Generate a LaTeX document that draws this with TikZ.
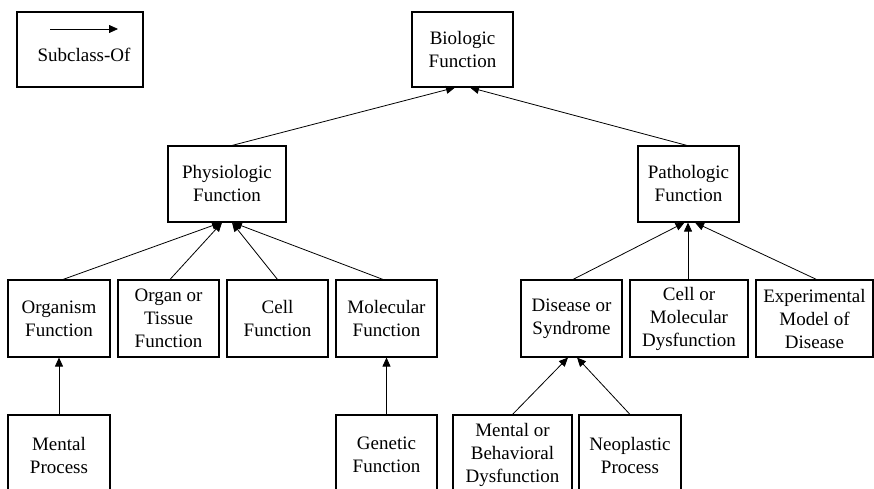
\documentclass[tikz,border=0pt]{standalone}
\usepackage{fontspec}
\setmainfont{Liberation Serif}
\usetikzlibrary{arrows.meta}
\begin{document}
\begin{tikzpicture}[x=1pt,y=-1pt,
  box/.style={draw,line width=1.1pt,rectangle,inner sep=0pt,align=center,
    font=\fontsize{19}{23}\selectfont},
  arr/.style={line width=0.8pt,-{Triangle[length=9pt,width=8pt]}}]
\useasboundingbox (0,0) rectangle (874,489);
\clip (0,0) rectangle (874,489);
\fill[white] (0,0) rectangle (874,489);
% legend
\node[box,minimum width=126pt,minimum height=75pt] (legend) at (80,49.5) {};
\node[font=\fontsize{19}{23}\selectfont,inner sep=0pt] (legtxt) at (84,55) {Subclass-Of};
\coordinate (la) at (50,29);
\coordinate (lb) at (118,29);
\draw[arr] (la) -- (lb);
% level 1
\node[box,minimum width=101pt,minimum height=75pt] (bio) at (462.5,49.5) {Biologic\\Function};
% level 2
\node[box,minimum width=118pt,minimum height=76pt] (phys) at (227,184) {Physiologic\\Function};
\node[box,minimum width=101pt,minimum height=76pt] (path) at (688.5,184) {Pathologic\\Function};
% level 3
\node[box,minimum width=102pt,minimum height=77pt] (org) at (59,318.5) {Organism\\Function};
\node[box,minimum width=101pt,minimum height=77pt] (organ) at (168.5,318.5) {Organ or\\Tissue\\Function};
\node[box,minimum width=101pt,minimum height=77pt] (cell) at (277.5,318.5) {Cell\\Function};
\node[box,minimum width=101pt,minimum height=77pt] (mol) at (386.5,318.5) {Molecular\\Function};
\node[box,minimum width=101pt,minimum height=77pt] (dis) at (571.5,318.5) {Disease or\\Syndrome};
\node[box,minimum width=118pt,minimum height=77pt] (cellmol) at (689,318.5) {Cell or\\Molecular\\Dysfunction};
\node[box,minimum width=117pt,minimum height=77pt] (exp) at (814.5,318.5) {Experimental\\Model of\\Disease};
% level 4
\node[box,minimum width=102pt,minimum height=80pt] (mental) at (59,455) {Mental\\Process};
\node[box,minimum width=101pt,minimum height=80pt] (gen) at (386.5,455) {Genetic\\Function};
\node[box,minimum width=119pt,minimum height=80pt] (mbd) at (512.5,455) {Mental or\\Behavioral\\Dysfunction};
\node[box,minimum width=102pt,minimum height=80pt] (neo) at (630,455) {Neoplastic\\Process};
% connectors
\draw[arr] ([xshift=5pt]phys.north) -- ([xshift=-7.5pt]bio.south);
\draw[arr] ([xshift=-1.5pt]path.north) -- ([xshift=7.5pt]bio.south);
\draw[arr] ([xshift=4pt]org.north) -- ([xshift=-6pt]phys.south);
\draw[arr] ([xshift=1.5pt]organ.north) -- ([xshift=-5pt]phys.south);
\draw[arr] (cell.north) -- ([xshift=5pt]phys.south);
\draw[arr] ([xshift=-3.5pt]mol.north) -- ([xshift=6pt]phys.south);
\draw[arr] ([xshift=1.5pt]dis.north) -- ([xshift=-4pt]path.south);
\draw[arr] ([xshift=-1pt]cellmol.north) -- ([xshift=-0.5pt]path.south);
\draw[arr] ([xshift=2pt]exp.north) -- ([xshift=6.5pt]path.south);
\draw[arr] (mental.north) -- (org.south);
\draw[arr] (gen.north) -- (mol.south);
\draw[arr] (mbd.north) -- ([xshift=-3.5pt]dis.south);
\draw[arr] (neo.north) -- ([xshift=5.5pt]dis.south);
\end{tikzpicture}
\end{document}
